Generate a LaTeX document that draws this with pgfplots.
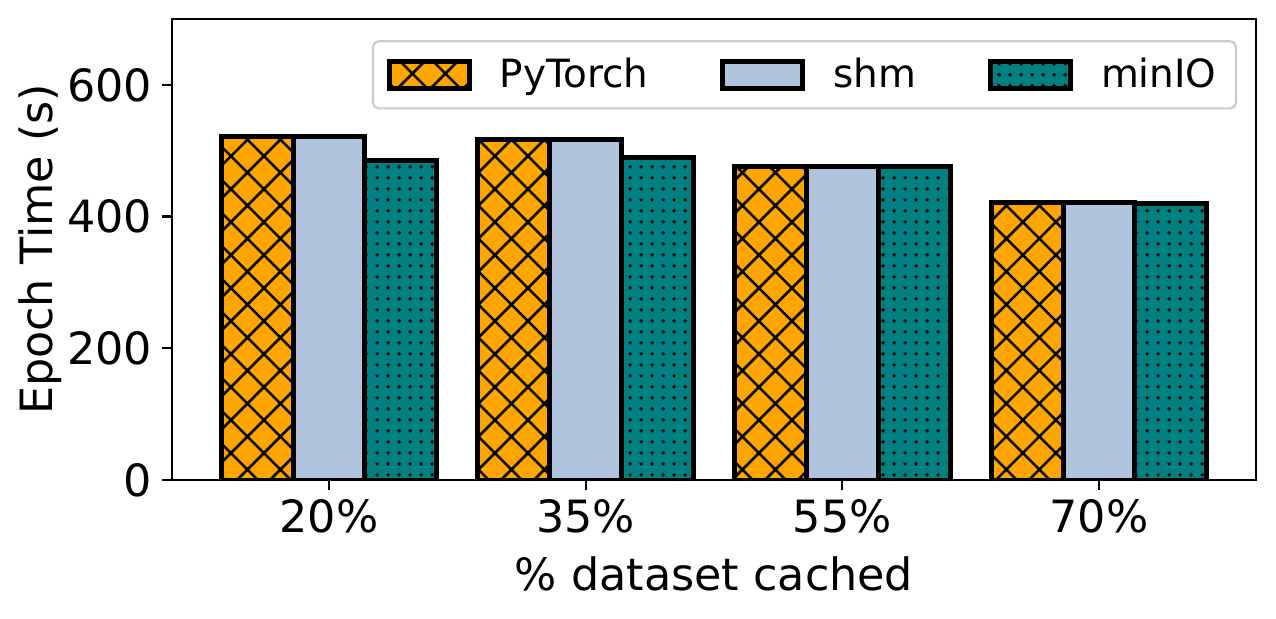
\documentclass[border=0pt]{standalone}
\usepackage{fontspec}
\setmainfont{DejaVu Sans}
\usepackage{pgfplots}
\pgfplotsset{compat=1.18}
\usetikzlibrary{patterns.meta}
\definecolor{cPy}{RGB}{255,165,0}
\definecolor{cShm}{RGB}{176,196,222}
\definecolor{cMin}{RGB}{0,128,128}
\begin{document}
\begin{tikzpicture}
\path[use as bounding box] (-61.92pt,-49.68pt) rectangle (397.44pt,172.8pt);
\begin{axis}[
  at={(0,0)}, anchor=south west,
  scale only axis, width=390.24pt, height=165.96pt,
  ybar=0pt, bar width=0.28,
  xmin=-0.612, xmax=3.612, ymin=0, ymax=700,
  xtick={0,1,2,3}, xticklabels={20\%,35\%,55\%,70\%},
  ytick={0,200,400,600},
  xtick pos=lower, ytick pos=left,
  tick align=outside, major tick length=3.6pt,
  tick style={line width=0.8pt, black},
  axis line style={line width=0.8pt},
  /pgf/number format/assume math mode=true,
  ticklabel style={font=\fontsize{16}{19}\selectfont},
  xlabel={\% dataset cached}, ylabel={Epoch Time (s)},
  every axis x label/.style={at={(axis description cs:0.5,0)}, anchor=base, yshift=-39.6pt, font=\fontsize{16}{19}\selectfont},
  every axis y label/.style={at={(axis description cs:-0.1217,0.5)}, rotate=90, anchor=center, font=\fontsize{16}{19}\selectfont},
  legend columns=3,
  legend style={at={(0.9825,0.954)}, anchor=north east, draw=black!20, fill=white,
    rounded corners=2pt, line width=0.8pt, font=\fontsize{14}{17}\selectfont,
    inner xsep=5pt, inner ysep=4pt,
    /tikz/every odd column/.append style={column sep=8pt},
    /tikz/every even column/.append style={column sep=24pt}},
  every axis plot post/.append style={legend image code/.code={\draw[#1, sharp corners] (0pt,-4.9pt) rectangle (28.8pt,4.9pt);}},
]
\addplot[fill=cPy, draw=black, line width=1.8pt,
  postaction={pattern={Hatch[angle=45,distance=8.4pt,line width=0.9pt]}, pattern color=black}]
  coordinates {(0,521) (1,517) (2,476) (3,421)};
\addlegendentry{PyTorch}
\addplot[fill=cShm, draw=black, line width=1.8pt]
  coordinates {(0,521) (1,517) (2,476) (3,421)};
\addlegendentry{shm}
\addplot[fill=cMin, draw=black, line width=1.8pt,
  postaction={pattern={Dots[distance=4pt,radius=0.75pt]}, pattern color=black}]
  coordinates {(0,485) (1,490) (2,476) (3,420)};
\addlegendentry{minIO}
\end{axis}
\end{tikzpicture}
\end{document}
